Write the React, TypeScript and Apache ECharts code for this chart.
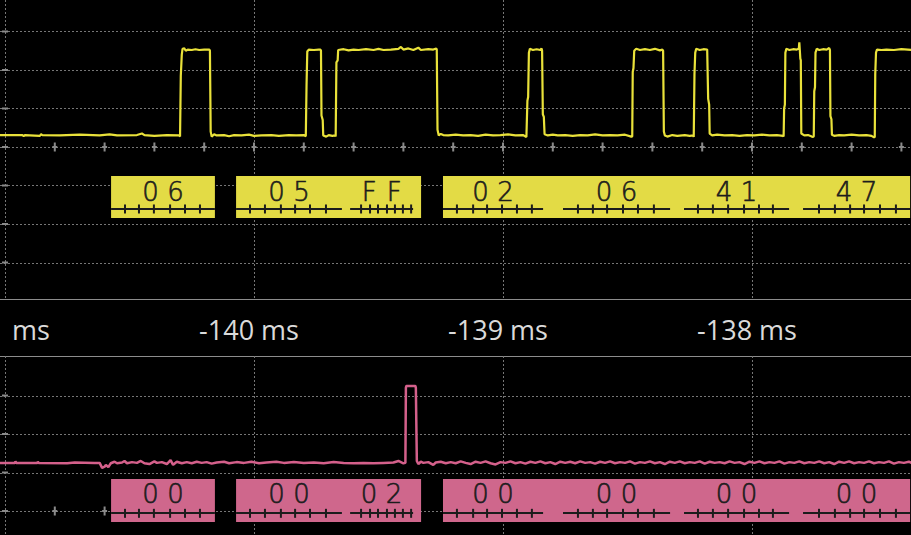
import React, { useEffect, useRef } from "react";
import * as echarts from "echarts";

// ---------- data ----------
const timeLabelValues = [-141, -140, -139, -138];
const gridTimes = [-141, -140, -139, -138];
const ch1GridLevels = [-3, -2, -1, 0, 1, 2, 3];
const ch2GridLevels = [0, 1, 2, 3];
const leftMarkLevelsCh1 = [-3, -2, -1, 0, 1, 2, 3];
const leftMarkLevelsCh2 = [0, 1, 2, 3];
const minorTickTimes = [
  -140.8, -140.6, -140.4, -140.2, -140.0, -139.8, -139.6, -139.4, -139.2, -139.0,
  -138.8, -138.6, -138.4, -138.2, -138.0, -137.8, -137.6, -137.4,
];

const decodeFrames = [
  [-140.574, -140.157],
  [-140.072, -139.329],
  [-139.241, -137.365],
];
const byteSegments = [
  [-140.574, -140.157],
  [-140.072, -139.647],
  [-139.614, -139.361],
  [-139.241, -138.839],
  [-138.759, -138.329],
  [-138.273, -137.851],
  [-137.795, -137.365],
];
const ch1Bytes = ["06", "05", "FF", "02", "06", "41", "47"];
const ch2Bytes = ["00", "00", "02", "00", "00", "00", "00"];
const bitTickTimes = [
  -140.518, -140.462, -140.402, -140.337, -140.277, -140.217,
  -140.016, -139.956, -139.892, -139.835, -139.775, -139.711,
  -139.57, -139.534, -139.502, -139.466, -139.434, -139.402, -139.369,
  -139.185, -139.12, -139.064, -139.004, -138.944, -138.884,
  -138.699, -138.639, -138.582, -138.518, -138.458, -138.394,
  -138.217, -138.157, -138.096, -138.032, -137.972, -137.916,
  -137.731, -137.667, -137.606, -137.55, -137.486, -137.422,
];

const ch1Trace = [
  [-141.02, 0.31], [-140.93, 0.31], [-140.925, 0.28], [-140.92, 0.31], [-140.86, 0.29], [-140.855, 0.33],
  [-140.85, 0.31], [-140.78, 0.3], [-140.7, 0.32], [-140.62, 0.3], [-140.58, 0.33], [-140.55, 0.3],
  [-140.47, 0.31], [-140.45, 0.35], [-140.44, 0.31], [-140.4, 0.29], [-140.35, 0.31], [-140.3, 0.3],
  [-140.297, 0.27], [-140.294, 1.85], [-140.29, 2.4], [-140.287, 2.55], [-140.28, 2.56], [-140.274, 2.5],
  [-140.266, 2.53], [-140.25, 2.52], [-140.235, 2.54], [-140.22, 2.52], [-140.2, 2.53], [-140.179, 2.53],
  [-140.177, 2.5], [-140.174, 0.4], [-140.17, 0.27], [-140.16, 0.33], [-140.15, 0.3], [-140.12, 0.31],
  [-140.1, 0.28], [-140.08, 0.31], [-140.05, 0.3], [-140.02, 0.32], [-140.0, 0.29], [-139.97, 0.3],
  [-139.93, 0.31], [-139.9, 0.29], [-139.86, 0.31], [-139.83, 0.3], [-139.8, 0.31],
  [-139.792, 0.28], [-139.789, 1.6], [-139.786, 2.48], [-139.78, 2.53], [-139.76, 2.52], [-139.74, 2.53],
  [-139.733, 2.53], [-139.731, 2.5], [-139.729, 0.82], [-139.724, 0.7], [-139.722, 0.3], [-139.71, 0.27],
  [-139.7, 0.31], [-139.685, 0.29], [-139.674, 0.3],
  [-139.672, 0.27], [-139.669, 2.2], [-139.664, 2.25], [-139.662, 2.52], [-139.64, 2.54], [-139.62, 2.51],
  [-139.6, 2.53], [-139.58, 2.52], [-139.55, 2.54], [-139.52, 2.52], [-139.5, 2.55], [-139.48, 2.52],
  [-139.45, 2.53], [-139.42, 2.55], [-139.41, 2.6], [-139.4, 2.53], [-139.38, 2.56], [-139.36, 2.52],
  [-139.34, 2.58], [-139.33, 2.52], [-139.3, 2.54], [-139.28, 2.53], [-139.268, 2.56],
  [-139.266, 2.53], [-139.263, 0.45], [-139.258, 0.3], [-139.25, 0.34], [-139.24, 0.31], [-139.22, 0.3],
  [-139.19, 0.32], [-139.16, 0.3], [-139.13, 0.31], [-139.1, 0.29], [-139.07, 0.32], [-139.04, 0.3],
  [-139.01, 0.31], [-138.98, 0.33], [-138.95, 0.3], [-138.92, 0.31], [-138.906, 0.26],
  [-138.904, 0.27], [-138.902, 1.2], [-138.899, 1.3], [-138.896, 2.45], [-138.892, 2.55], [-138.88, 2.52],
  [-138.865, 2.54], [-138.85, 2.52], [-138.845, 2.56],
  [-138.843, 2.5], [-138.84, 0.85], [-138.836, 0.78], [-138.833, 0.33], [-138.82, 0.3], [-138.8, 0.32],
  [-138.78, 0.3], [-138.75, 0.31], [-138.72, 0.29], [-138.69, 0.31], [-138.66, 0.3], [-138.63, 0.33],
  [-138.6, 0.3], [-138.57, 0.31], [-138.54, 0.3], [-138.51, 0.32], [-138.485, 0.27],
  [-138.481, 0.27], [-138.479, 1.95], [-138.476, 2.05], [-138.473, 2.5], [-138.465, 2.55], [-138.45, 2.52],
  [-138.43, 2.54], [-138.41, 2.52], [-138.39, 2.55], [-138.37, 2.51], [-138.36, 2.53],
  [-138.357, 2.5], [-138.354, 0.4], [-138.35, 0.3], [-138.34, 0.27], [-138.32, 0.31], [-138.3, 0.29],
  [-138.27, 0.31], [-138.25, 0.29], [-138.236, 0.3],
  [-138.234, 0.26], [-138.231, 1.9], [-138.228, 2.45], [-138.224, 2.55], [-138.21, 2.52], [-138.195, 2.54],
  [-138.18, 2.53], [-138.178, 2.52], [-138.176, 1.25], [-138.172, 1.1], [-138.17, 0.35], [-138.16, 0.3],
  [-138.14, 0.32], [-138.11, 0.3], [-138.08, 0.31], [-138.05, 0.29], [-138.02, 0.31], [-137.99, 0.3],
  [-137.96, 0.32], [-137.93, 0.3], [-137.9, 0.31], [-137.875, 0.29],
  [-137.873, 0.27], [-137.871, 1.0], [-137.868, 1.1], [-137.866, 2.45], [-137.862, 2.55], [-137.85, 2.52],
  [-137.835, 2.54], [-137.82, 2.53], [-137.812, 2.55], [-137.81, 2.72], [-137.808, 2.52],
  [-137.806, 2.3], [-137.804, 2.25], [-137.802, 0.35], [-137.79, 0.3], [-137.775, 0.31], [-137.76, 0.27],
  [-137.754, 0.26], [-137.752, 0.28], [-137.75, 1.45], [-137.747, 1.55], [-137.745, 2.45], [-137.74, 2.55],
  [-137.73, 2.52], [-137.715, 2.54], [-137.7, 2.53], [-137.69, 2.57],
  [-137.687, 2.52], [-137.685, 0.8], [-137.681, 0.72], [-137.679, 0.32], [-137.67, 0.29], [-137.65, 0.31],
  [-137.63, 0.3], [-137.6, 0.32], [-137.57, 0.3], [-137.54, 0.31], [-137.52, 0.29], [-137.51, 0.25],
  [-137.507, 0.26], [-137.505, 1.9], [-137.502, 2.45], [-137.498, 2.53], [-137.48, 2.52], [-137.46, 2.53],
  [-137.43, 2.52], [-137.4, 2.54], [-137.36, 2.52],
];

const ch2Trace = [
  [-141.02, 1.25], [-140.96, 1.25], [-140.958, 1.29], [-140.955, 1.25], [-140.87, 1.25], [-140.868, 1.28],
  [-140.865, 1.25], [-140.75, 1.24], [-140.72, 1.26], [-140.64, 1.25], [-140.62, 1.25], [-140.61, 1.12],
  [-140.6, 1.15], [-140.595, 1.2], [-140.585, 1.14], [-140.575, 1.24], [-140.56, 1.28], [-140.55, 1.24],
  [-140.53, 1.26], [-140.52, 1.3], [-140.51, 1.24], [-140.49, 1.27], [-140.47, 1.25], [-140.455, 1.3],
  [-140.44, 1.24], [-140.42, 1.22], [-140.4, 1.29], [-140.39, 1.25], [-140.37, 1.27], [-140.35, 1.22],
  [-140.335, 1.32], [-140.325, 1.2], [-140.31, 1.28], [-140.29, 1.24], [-140.27, 1.27], [-140.25, 1.24],
  [-140.23, 1.28], [-140.21, 1.25], [-140.19, 1.27], [-140.17, 1.23], [-140.15, 1.26], [-140.12, 1.28],
  [-140.1, 1.24], [-140.07, 1.27], [-140.04, 1.25], [-140.01, 1.28], [-139.98, 1.24], [-139.95, 1.26],
  [-139.91, 1.28], [-139.88, 1.25], [-139.84, 1.27], [-139.8, 1.25], [-139.76, 1.26], [-139.72, 1.24],
  [-139.68, 1.27], [-139.64, 1.25], [-139.6, 1.24], [-139.56, 1.25], [-139.52, 1.24], [-139.48, 1.25],
  [-139.44, 1.26], [-139.42, 1.3], [-139.4, 1.24], [-139.392, 1.25], [-139.39, 3.2], [-139.388, 3.25],
  [-139.352, 3.25], [-139.35, 3.2], [-139.346, 1.3], [-139.34, 1.22], [-139.33, 1.28], [-139.32, 1.25],
  [-139.3, 1.27], [-139.28, 1.2], [-139.27, 1.26], [-139.25, 1.28], [-139.23, 1.24], [-139.21, 1.27],
  [-139.19, 1.24], [-139.17, 1.29], [-139.15, 1.25], [-139.13, 1.22], [-139.11, 1.28], [-139.09, 1.25],
  [-139.07, 1.29], [-139.05, 1.24], [-139.03, 1.21], [-139.01, 1.27], [-138.99, 1.25], [-138.97, 1.29],
  [-138.95, 1.24], [-138.93, 1.27], [-138.91, 1.23], [-138.89, 1.28], [-138.87, 1.25], [-138.85, 1.29],
  [-138.83, 1.24], [-138.81, 1.27], [-138.79, 1.22], [-138.77, 1.28], [-138.75, 1.25], [-138.73, 1.28],
  [-138.71, 1.24], [-138.69, 1.29], [-138.67, 1.25], [-138.65, 1.27], [-138.63, 1.23], [-138.61, 1.28],
  [-138.59, 1.25], [-138.57, 1.29], [-138.55, 1.24], [-138.53, 1.27], [-138.51, 1.25], [-138.49, 1.29],
  [-138.47, 1.23], [-138.45, 1.27], [-138.43, 1.25], [-138.41, 1.29], [-138.39, 1.24], [-138.37, 1.27],
  [-138.35, 1.22], [-138.33, 1.28], [-138.31, 1.25], [-138.29, 1.29], [-138.27, 1.24], [-138.25, 1.27],
  [-138.23, 1.25], [-138.21, 1.29], [-138.19, 1.23], [-138.17, 1.28], [-138.15, 1.25], [-138.13, 1.27],
  [-138.11, 1.24], [-138.09, 1.29], [-138.07, 1.25], [-138.05, 1.27], [-138.03, 1.22], [-138.01, 1.28],
  [-137.99, 1.25], [-137.97, 1.29], [-137.95, 1.24], [-137.93, 1.27], [-137.91, 1.25], [-137.89, 1.29],
  [-137.87, 1.23], [-137.85, 1.27], [-137.83, 1.25], [-137.81, 1.29], [-137.79, 1.24], [-137.77, 1.27],
  [-137.75, 1.25], [-137.73, 1.29], [-137.71, 1.24], [-137.69, 1.27], [-137.67, 1.22], [-137.65, 1.28],
  [-137.63, 1.25], [-137.61, 1.29], [-137.59, 1.24], [-137.57, 1.27], [-137.55, 1.25], [-137.53, 1.29],
  [-137.51, 1.24], [-137.49, 1.27], [-137.47, 1.25], [-137.45, 1.29], [-137.43, 1.23], [-137.41, 1.27],
  [-137.39, 1.25], [-137.37, 1.28], [-137.36, 1.25],
];

// ---------- layout constants ----------
const X_MIN = -141 - 5 / 249;
const X_MAX = -138 + 159 / 249;
const CH1_Y = { min: -3.961, max: 3.818 };
const CH2_Y = { min: -0.623, max: 4.026 };
const CH1_LV = { boxTop: -0.753, boxBottom: -1.844, ruler: -1.61, text: -1.156 };
const CH2_LV = { boxTop: 0.831, boxBottom: -0.286, ruler: -0.06, text: 0.429 };

const YELLOW_TRACE = "#e9e13a";
const YELLOW_BOX = "#e3db45";
const PINK_TRACE = "#d4608b";
const PINK_BOX = "#cf678c";
const GRID_COLOR = "#767676";
const DARK = "#1c1c1c";

function gridSeries(gi: number, levels: number[], leftMarks: number[]) {
  const vertical = {
    type: "custom",
    xAxisIndex: gi,
    yAxisIndex: gi,
    silent: true,
    z: 1,
    data: gridTimes.map((t) => [t, 0]),
    renderItem: (params: any, api: any) => {
      const cs = params.coordSys;
      const x = Math.round(api.coord([api.value(0), 0])[0]) + 0.5;
      return {
        type: "line",
        shape: { x1: x, y1: cs.y, x2: x, y2: cs.y + cs.height },
        style: { stroke: GRID_COLOR, lineWidth: 1, lineDash: [2, 2] },
      };
    },
  };
  const horizontal = {
    type: "custom",
    xAxisIndex: gi,
    yAxisIndex: gi,
    silent: true,
    z: 1,
    data: levels.map((l) => [X_MIN, l]),
    renderItem: (params: any, api: any) => {
      const cs = params.coordSys;
      const y = Math.round(api.coord([X_MIN, api.value(1)])[1]) + 0.5;
      return {
        type: "line",
        shape: { x1: cs.x, y1: y, x2: cs.x + cs.width, y2: y },
        style: { stroke: GRID_COLOR, lineWidth: 1, lineDash: [2, 2] },
      };
    },
  };
  const minor = {
    type: "scatter",
    xAxisIndex: gi,
    yAxisIndex: gi,
    silent: true,
    z: 2,
    symbol: "rect",
    symbolSize: [2, 9],
    itemStyle: { color: "#8a8a8a", opacity: 1 },
    data: minorTickTimes.map((t) => [t, 0]),
  };
  const minorCross = {
    type: "scatter",
    xAxisIndex: gi,
    yAxisIndex: gi,
    silent: true,
    z: 2,
    symbol: "rect",
    symbolSize: [5, 2],
    itemStyle: { color: "#8a8a8a", opacity: 1 },
    data: minorTickTimes.map((t) => [t, 0]),
  };
  const left = {
    type: "scatter",
    xAxisIndex: gi,
    yAxisIndex: gi,
    silent: true,
    z: 2,
    symbol: "rect",
    symbolSize: [6, 2],
    itemStyle: { color: "#8a8a8a", opacity: 1 },
    data: leftMarks.map((l) => [-141, l]),
  };
  return [vertical, horizontal, minor, minorCross, left];
}

function decodeSeries(gi: number, lv: any, boxColor: string, labels: string[]) {
  const boxes = {
    type: "custom",
    xAxisIndex: gi,
    yAxisIndex: gi,
    silent: true,
    z: 3,
    data: decodeFrames,
    renderItem: (params: any, api: any) => {
      const p0 = api.coord([api.value(0), lv.boxTop]);
      const p1 = api.coord([api.value(1), lv.boxBottom]);
      return {
        type: "rect",
        shape: { x: p0[0], y: p0[1], width: p1[0] - p0[0], height: p1[1] - p0[1] },
        style: { fill: boxColor },
      };
    },
  };
  const segs = {
    type: "custom",
    xAxisIndex: gi,
    yAxisIndex: gi,
    silent: true,
    z: 4,
    data: byteSegments,
    renderItem: (params: any, api: any) => {
      const s = api.value(0);
      const e = api.value(1);
      const a = api.coord([s, lv.ruler]);
      const b = api.coord([e, lv.ruler]);
      const c = api.coord([(s + e) / 2, lv.text]);
      const label = labels[params.dataIndex] || "";
      const chars = label.split("");
      const children: any[] = [
        {
          type: "line",
          shape: { x1: a[0], y1: Math.round(a[1]), x2: b[0], y2: Math.round(b[1]) },
          style: { stroke: DARK, lineWidth: 2 },
        },
      ];
      chars.forEach((ch, i) => {
        children.push({
          type: "text",
          x: c[0] + (i - (chars.length - 1) / 2) * 25,
          y: c[1],
          style: {
            text: ch,
            fill: DARK,
            stroke: DARK,
            lineWidth: 0.6,
            fontFamily: "DejaVu Sans",
            fontWeight: 200,
            fontSize: 26,
            align: "center",
            verticalAlign: "middle",
          },
        });
      });
      return { type: "group", children };
    },
  };
  const bits = {
    type: "scatter",
    xAxisIndex: gi,
    yAxisIndex: gi,
    silent: true,
    z: 5,
    symbol: "rect",
    symbolSize: [2, 9],
    itemStyle: { color: DARK, opacity: 1 },
    data: bitTickTimes.map((t) => [t, lv.ruler]),
  };
  return [boxes, segs, bits];
}

export default function App() {
  const ref = useRef<HTMLDivElement>(null);
  useEffect(() => {
    document.body.style.margin = "0";
    document.body.style.background = "#000";
    if (!ref.current) return;
    const chart = echarts.init(ref.current, undefined, { renderer: "svg" });
    const axisBase = {
      type: "value",
      min: X_MIN,
      max: X_MAX,
      axisTick: { show: false },
      splitLine: { show: false },
    };
    chart.setOption({
      animation: false,
      backgroundColor: "#000",
      grid: [
        { left: 0, right: 0, top: 0, height: 299.5, containLabel: false, outerBoundsMode: "none" },
        { left: 0, right: 0, top: 356, height: 179, containLabel: false, outerBoundsMode: "none" },
      ],
      xAxis: [
        {
          ...axisBase,
          gridIndex: 0,
          position: "bottom",
          axisLine: { show: true, onZero: false, lineStyle: { color: "#8c8c8c", width: 1 } },
          axisLabel: {
            show: true,
            customValues: timeLabelValues,
            formatter: (v: number) => `${v} ms`,
            color: "#dadada",
            fontFamily: "Open Sans",
            fontSize: 27,
            margin: 29.5,
            verticalAlign: "middle",
            padding: [0, 10, 0, 0],
            hideOverlap: false,
          },
        },
        {
          ...axisBase,
          gridIndex: 1,
          position: "top",
          axisLine: { show: true, onZero: false, lineStyle: { color: "#8c8c8c", width: 1 } },
          axisLabel: { show: false },
        },
      ],
      yAxis: [
        { type: "value", gridIndex: 0, min: CH1_Y.min, max: CH1_Y.max, show: false },
        { type: "value", gridIndex: 1, min: CH2_Y.min, max: CH2_Y.max, show: false },
      ],
      series: [
        ...gridSeries(0, ch1GridLevels, leftMarkLevelsCh1),
        ...gridSeries(1, ch2GridLevels, leftMarkLevelsCh2),
        ...decodeSeries(0, CH1_LV, YELLOW_BOX, ch1Bytes),
        ...decodeSeries(1, CH2_LV, PINK_BOX, ch2Bytes),
        {
          type: "line",
          name: "CH1",
          xAxisIndex: 0,
          yAxisIndex: 0,
          z: 6,
          silent: true,
          showSymbol: false,
          symbol: "none",
          data: ch1Trace,
          lineStyle: { color: YELLOW_TRACE, width: 2.2 },
        },
        {
          type: "line",
          name: "CH2",
          xAxisIndex: 1,
          yAxisIndex: 1,
          z: 6,
          silent: true,
          showSymbol: false,
          symbol: "none",
          data: ch2Trace,
          lineStyle: { color: PINK_TRACE, width: 2.5 },
        },
      ],
    });
    return () => chart.dispose();
  }, []);
  return <div ref={ref} style={{ width: 911, height: 535, background: "#000" }} />;
}
